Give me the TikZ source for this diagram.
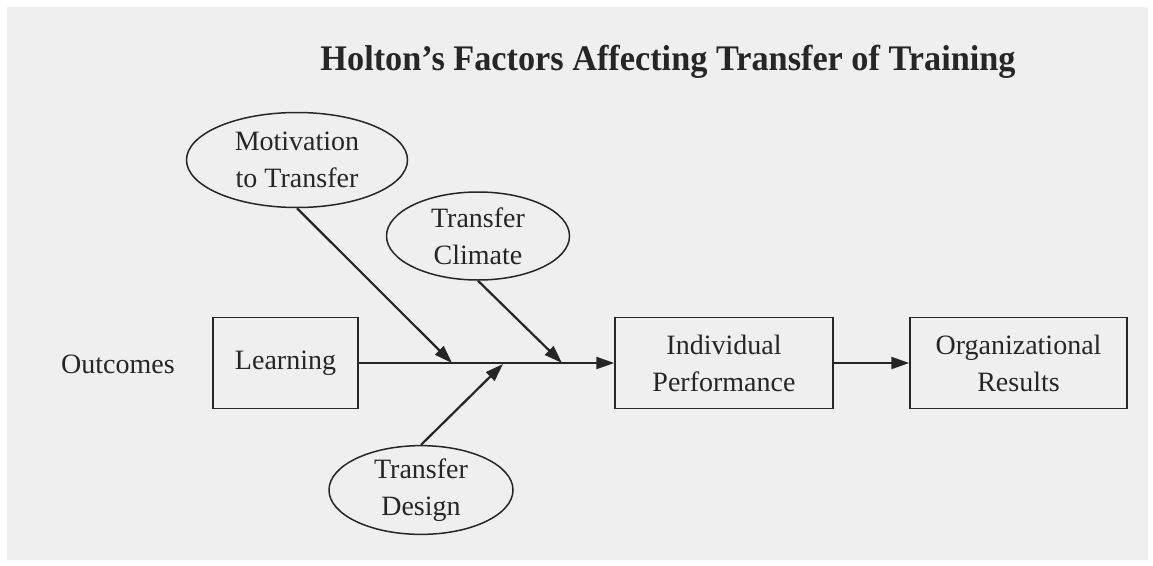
\documentclass[tikz,border=0pt]{standalone}
\usepackage{fontspec}
\setmainfont{Liberation Serif}
\usetikzlibrary{shapes.geometric,arrows.meta}
\definecolor{paper}{HTML}{EFEFEF}
\definecolor{ink}{HTML}{262626}
\tikzset{
  oval/.style={ellipse, draw=ink, line width=1.5pt, inner sep=0pt, align=center,
    font=\fontsize{28}{37}\selectfont, text=ink},
  boxnode/.style={rectangle, draw=ink, line width=1.5pt, inner sep=0pt, align=center,
    minimum height=91pt, font=\fontsize{28}{37}\selectfont, text=ink},
  conn/.style={draw=ink, line width=2.2pt, -{Triangle[length=18pt,width=12pt]}},
}
\begin{document}
\begin{tikzpicture}[x=1pt,y=-1pt]
\useasboundingbox (0,0) rectangle (1153,565);
\fill[white] (0,0) rectangle (1153,565);
\fill[paper] (7,7) rectangle (1148,560);
\node[anchor=base, text=ink] (title) at (668,70)
  {\resizebox{695pt}{\height}{\fontsize{36}{40}\selectfont\bfseries Holton’s Factors Affecting Transfer of Training}};
\node[oval, minimum width=221pt, minimum height=95pt] (mot) at (297,160) {Motivation\\to Transfer};
\node[oval, minimum width=183pt, minimum height=88pt] (cli) at (478,236) {Transfer\\Climate};
\node[oval, minimum width=184pt, minimum height=86pt] (des) at (421,490) {Transfer\\Design};
\node[font=\fontsize{28}{37}\selectfont, text=ink] (out) at (118,364) {Outcomes};
\node[boxnode, minimum width=145pt] (learn) at (285.5,363) {Learning};
\node[boxnode, minimum width=218pt] (ind) at (724,363) {Individual\\Performance};
\node[boxnode, minimum width=217pt] (org) at (1018.5,363) {Organizational\\Results};
\coordinate (m1) at (452,363);
\coordinate (m2) at (562,363);
\coordinate (m3) at (503,364);
\draw[conn] (learn.east) -- (ind.west);
\draw[conn] (ind.east) -- (org.west);
\draw[conn] (mot.south) -- (m1);
\draw[conn] (cli.south) -- (m2);
\draw[conn] (des.north) -- (m3);
\end{tikzpicture}
\end{document}
